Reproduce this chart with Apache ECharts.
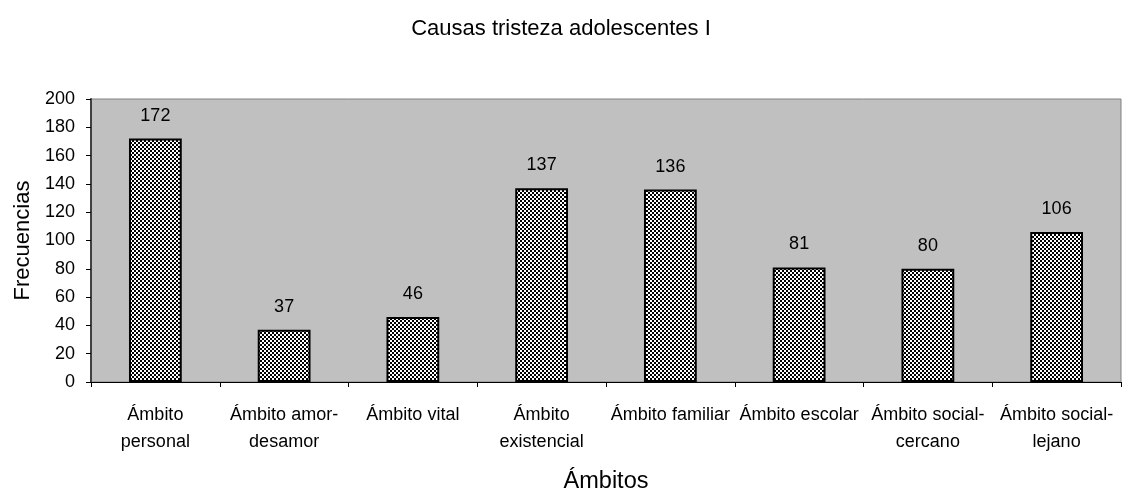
<!DOCTYPE html>
<html>
<head>
<meta charset="utf-8">
<script src="https://cdn.jsdelivr.net/npm/echarts@6/dist/echarts.min.js"></script>
<style>
  html, body { margin: 0; padding: 0; background: #fff; }
  #chart { width: 1122px; height: 491px; }
</style>
</head>
<body>
<div id="chart"></div>
<script>
const categories = [
  'Ámbito\npersonal',
  'Ámbito amor-\ndesamor',
  'Ámbito vital',
  'Ámbito\nexistencial',
  'Ámbito familiar',
  'Ámbito escolar',
  'Ámbito social-\ncercano',
  'Ámbito social-\nlejano'
]
const frecuencias = [172, 37, 46, 137, 136, 81, 80, 106]

// checkered fill like the old Excel pattern
function checker() {
  const c = document.createElement('canvas')
  c.width = 4
  c.height = 4
  const ctx = c.getContext('2d')
  ctx.fillStyle = '#ffffff'
  ctx.fillRect(0, 0, 4, 4)
  ctx.fillStyle = '#000000'
  ctx.fillRect(0, 0, 2, 2)
  ctx.fillRect(2, 2, 2, 2)
  return c
}

const font = '"Liberation Sans", Arial, sans-serif'
const chart = echarts.init(document.getElementById('chart'))

chart.setOption({
  animation: false,
  backgroundColor: '#ffffff',
  title: {
    text: 'Causas tristeza adolescentes I',
    left: 'center',
    top: 18,
    padding: 0,
    textStyle: { fontFamily: font, fontSize: 22, fontWeight: 'normal', color: '#000' }
  },
  grid: {
    left: 91,
    right: 1,
    top: 99,
    bottom: 109,
    containLabel: false,
    outerBoundsMode: 'none',
    show: true,
    backgroundColor: '#c0c0c0',
    borderColor: '#808080',
    borderWidth: 1
  },
  xAxis: {
    type: 'category',
    data: categories,
    name: 'Ámbitos',
    nameLocation: 'middle',
    nameGap: 88,
    nameTextStyle: { fontFamily: font, fontSize: 23.5, color: '#000', verticalAlign: 'top' },
    axisLine: { lineStyle: { color: '#000', width: 1 } },
    axisTick: { show: true, length: 5, lineStyle: { color: '#000' } },
    axisLabel: {
      interval: 0,
      margin: 20,
      fontFamily: font,
      fontSize: 18,
      lineHeight: 27,
      color: '#000'
    }
  },
  yAxis: {
    type: 'value',
    min: 0,
    max: 200,
    interval: 20,
    name: 'Frecuencias',
    nameLocation: 'middle',
    nameGap: 55,
    nameTextStyle: { fontFamily: font, fontSize: 22, color: '#000' },
    axisLine: { show: true, lineStyle: { color: '#404040', width: 2 } },
    axisTick: { show: true, length: 5, lineStyle: { color: '#000' } },
    axisLabel: { margin: 16, fontFamily: font, fontSize: 18, color: '#000' },
    splitLine: { show: false }
  },
  series: [
    {
      type: 'bar',
      data: frecuencias,
      barWidth: '41%',
      itemStyle: {
        color: { image: checker(), repeat: 'repeat' },
        borderColor: '#000',
        borderWidth: 2
      },
      label: {
        show: true,
        position: 'top',
        distance: 14,
        fontFamily: font,
        fontSize: 18,
        color: '#000'
      }
    }
  ]
})
</script>
</body>
</html>
